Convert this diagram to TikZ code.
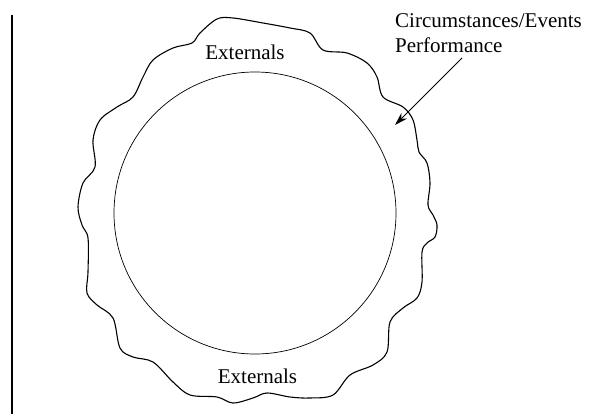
\documentclass[tikz,border=0pt]{standalone}
\usepackage{fontspec}
\setmainfont{Liberation Serif}
\usetikzlibrary{arrows.meta}
\begin{document}
\begin{tikzpicture}[x=1pt,y=-1pt,
  lbl/.style={font=\fontsize{21}{25}\selectfont, inner sep=0pt},
  blob/.style={line width=1.1pt, line join=round},
  ring/.style={line width=0.7pt},
  pointer/.style={line width=1pt, -{Stealth[length=13pt,width=8pt]}}]
\useasboundingbox (0,0) rectangle (591,414);
\draw[line width=1.3pt] (12,15) -- (12,414);
\draw[blob] plot[smooth cycle, tension=0.55] coordinates {
 (200,33) (217,19) (233,18) (263,23) (290,28) (310,33) (323,50)
 (347,53) (367,63) (377,77) (383,97) (403,107) (413,120) (417,140)
 (419,152) (427,163) (430,183) (428,205) (433,215) (437,225) (435,237)
 (427,243) (422,252) (422,282) (417,298) (403,308) (390,322) (387,352)
 (373,365) (350,375) (333,395) (310,398) (290,397) (267,393) (253,398)
 (233,403) (217,397) (190,395) (173,382) (153,362) (133,357) (120,348)
 (113,318) (97,305) (87,293) (88,272) (88,238) (82,225) (78,207)
 (83,183) (95,167) (93,140) (100,120) (117,107) (133,97) (143,77)
 (153,60) (173,48) (192,43)};
\node[draw, ring, circle, minimum size=282pt, inner sep=0pt] (core) at (255,213) {};
\node[lbl, anchor=base] (exttop) at (245,60) {Externals};
\node[lbl, anchor=base] (extbot) at (257.5,383) {Externals};
\node[lbl, anchor=base west] (circ) at (395,28) {Circumstances/Events};
\node[lbl, anchor=base west] (perf) at (395,53) {Performance};
\coordinate (astart) at (462,58);
\coordinate (atip) at (395,125);
\draw[pointer] (astart) -- (atip);
\end{tikzpicture}
\end{document}
